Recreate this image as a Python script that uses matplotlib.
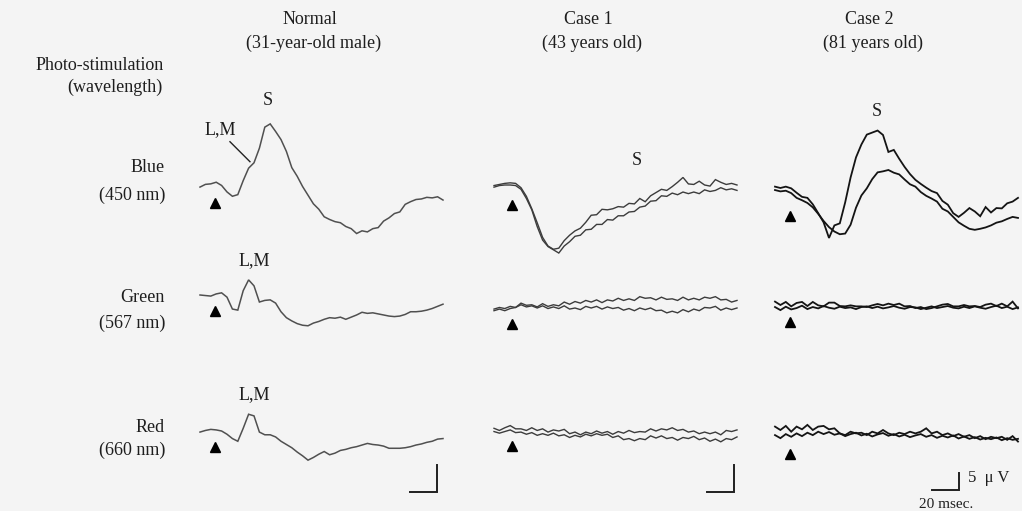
import numpy as np
import matplotlib
matplotlib.use("Agg")
import matplotlib.pyplot as plt

# ---------------- data (amplitude in microvolts, one sample every DT ms) ----------------
DT = 4.0  # ms between samples

columns = ["Normal", "Case 1", "Case 2"]
subtitles = ["(31-year-old male)", "(43 years old)", "(81 years old)"]
stim_names = ["Blue", "Green", "Red"]
wavelengths = ["(450 nm)", "(567 nm)", "(660 nm)"]

# Normal (31-year-old male)
normal_blue = [-0.2, 0.3, 0.4, 0.7, 0.1, -1.1, -1.9, -1.6, 1.0, 3.3, 4.3, 7.0, 10.9, 11.5, 10.1,
               8.6, 6.4, 3.4, 1.8, -0.1, -1.7, -3.3, -4.3, -5.7, -6.2, -6.6, -6.8, -7.5, -7.9,
               -8.8, -8.3, -8.5, -7.9, -7.7, -6.5, -5.9, -5.1, -4.8, -3.4, -2.9, -2.5, -2.4,
               -2.1, -2.2, -2.0, -2.6]
normal_green = [0.0, -0.1, -0.2, 0.2, 0.4, -0.4, -2.6, -2.8, 0.8, 2.8, 1.7, -1.3, -1.0, -0.9,
                -1.5, -3.1, -4.2, -4.8, -5.3, -5.6, -5.7, -5.2, -4.9, -4.5, -4.2, -4.3, -4.1,
                -4.5, -4.1, -3.7, -3.2, -3.4, -3.3, -3.5, -3.7, -3.9, -4.0, -3.9, -3.6, -3.1,
                -3.1, -3.0, -2.8, -2.5, -2.1, -1.7]
normal_red = [-0.2, 0.1, 0.3, 0.2, 0.0, -0.6, -1.4, -1.9, 0.5, 3.1, 2.8, -0.2, -0.7, -0.7,
              -1.1, -1.9, -2.5, -3.1, -3.9, -4.6, -5.4, -4.9, -4.3, -3.8, -4.4, -4.1, -3.6,
              -3.4, -3.1, -2.9, -2.6, -2.3, -2.5, -2.6, -2.8, -3.2, -3.2, -3.2, -3.1, -2.9,
              -2.6, -2.4, -2.1, -1.9, -1.5, -1.4]

# Case 1 (43 years old), two recordings each
case1_blue_a = [-0.1, 0.1, 0.3, 0.4, 0.3, -0.5, -2.1, -4.4, -7.0, -9.7, -11.3, -11.9, -11.7,
                -10.3, -9.3, -8.5, -8.0, -6.9, -5.6, -5.5, -4.5, -4.6, -4.4, -4.0, -4.1, -3.4,
                -3.5, -2.5, -3.1, -2.0, -1.4, -0.8, -1.0, -0.3, 0.5, 1.4, 0.2, 0.1, 0.7, 0.0,
                -0.2, 1.0, 0.5, 0.1, 0.3, 0.0]
case1_blue_b = [-0.4, -0.1, 0.0, 0.0, -0.1, -0.8, -2.5, -4.6, -7.7, -10.2, -11.4, -12.0, -12.6,
                -11.3, -10.5, -9.5, -9.3, -8.3, -8.2, -7.3, -7.3, -6.4, -6.5, -5.7, -5.7, -5.0,
                -4.9, -4.1, -3.9, -3.0, -2.9, -2.0, -2.1, -1.5, -1.8, -1.3, -1.6, -1.3, -1.6,
                -0.9, -1.2, -1.0, -0.5, -0.9, -0.7, -1.0]
case1_green_a = [-0.2, 0.1, -0.1, 0.3, 0.1, 0.9, 0.5, 0.6, 0.2, 0.8, 0.3, 0.6, 0.4, 1.1, 0.7,
                 1.2, 0.9, 1.4, 1.1, 1.5, 1.0, 1.5, 1.3, 1.8, 1.4, 1.7, 1.4, 2.1, 1.8, 1.9, 1.5,
                 2.0, 1.6, 1.7, 1.4, 2.0, 1.5, 1.8, 1.5, 2.0, 1.8, 2.1, 1.5, 1.6, 1.1, 1.4]
case1_green_b = [-0.5, -0.2, -0.5, -0.1, 0.1, 0.6, 0.2, 0.4, 0.0, 0.4, -0.1, 0.2, -0.1, 0.4,
                 -0.2, 0.0, -0.3, 0.3, 0.0, 0.3, -0.2, 0.2, -0.1, 0.1, -0.4, -0.1, -0.5, 0.0,
                 -0.3, 0.0, -0.5, -0.4, -0.9, -0.6, -0.9, -0.3, -0.7, -0.2, -0.5, 0.1, 0.0, 0.3,
                 -0.4, 0.0, -0.3, 0.0]
case1_red_a = [0.5, 0.1, 0.6, 1.0, 0.4, 0.4, 0.1, 0.6, 0.1, 0.4, -0.2, 0.2, 0.0, 0.3, -0.5,
               -0.2, -0.7, -0.2, -0.5, 0.0, -0.4, -0.1, -0.6, -0.1, -0.4, 0.1, -0.3, -0.1, -0.2,
               0.4, 0.0, 0.4, 0.2, 0.6, 0.1, 0.3, -0.2, 0.0, -0.5, -0.2, -0.5, -0.2, -0.7, 0.1,
               -0.1, 0.2]
case1_red_b = [-0.1, -0.4, -0.1, 0.2, -0.3, -0.2, -0.6, -0.3, -0.8, -0.5, -0.8, -0.4, -0.9,
               -0.7, -1.2, -0.8, -1.1, -0.6, -0.9, -0.5, -0.8, -0.6, -1.2, -0.9, -1.6, -1.4,
               -1.8, -1.4, -1.6, -0.9, -1.3, -0.9, -1.4, -1.2, -1.7, -1.2, -1.4, -1.0, -1.6,
               -1.3, -1.9, -1.5, -2.0, -1.4, -1.6, -1.1]

# Case 2 (81 years old), two recordings each
case2_blue_a = [0.4, 0.0, 0.4, -0.1, -1.4, -2.6, -2.9, -4.8, -7.4, -10.1, -14.7, -11.0, -10.4,
                -4.2, 3.1, 9.0, 12.8, 15.7, 16.3, 16.9, 15.6, 10.6, 11.2, 8.6, 6.2, 4.1, 2.4,
                1.2, 0.1, -0.9, -1.5, -3.8, -4.9, -7.4, -8.5, -7.3, -5.9, -6.9, -8.3, -5.6,
                -7.2, -5.9, -6.0, -4.5, -4.0, -2.9]
case2_blue_b = [-0.6, -1.0, -0.8, -1.5, -2.9, -3.6, -4.4, -5.7, -7.6, -9.7, -11.5, -12.8,
                -13.6, -13.4, -10.8, -5.8, -2.2, -0.1, 2.6, 4.6, 4.9, 5.3, 4.5, 4.0, 2.5, 1.1,
                0.4, -1.2, -2.3, -3.1, -4.0, -6.1, -6.9, -8.5, -10.1, -11.1, -12.0, -12.3,
                -12.0, -11.6, -11.0, -10.2, -9.8, -9.1, -8.5, -8.8]
case2_green_a = [1.0, 0.0, 0.9, -0.4, 0.6, 0.9, -0.3, 0.9, -0.1, -0.4, 0.7, 0.7, -0.3, -0.4,
                 -0.1, -0.4, -0.4, -0.6, -0.1, 0.3, -0.1, 0.4, 0.0, 0.4, -0.4, -0.3, -0.9, -0.6,
                 -1.2, -0.9, -0.4, 0.1, 0.3, -0.4, -0.4, 0.0, -0.4, -0.3, -0.6, 0.1, 0.4, -0.3,
                 0.4, -0.4, 1.0, -1.0]
case2_green_b = [-0.6, -1.5, -0.5, -1.3, -0.9, -0.2, -1.2, -0.6, -1.0, -0.3, -0.8, -1.1, -0.5,
                 -0.9, -0.7, -1.2, -0.6, -0.4, -0.9, -0.5, -1.0, -0.7, -0.3, -0.8, -1.1, -0.6,
                 -0.7, -1.2, -0.8, -0.4, -0.9, -0.6, -0.3, -0.8, -1.0, -0.5, -0.9, -0.4, -0.8,
                 -1.1, -0.6, -0.2, -0.9, -0.5, -1.2, -0.7]
case2_red_a = [1.0, 0.0, 1.2, -0.5, 1.0, 0.2, 1.5, 0.0, 1.0, 1.2, 0.2, 0.5, -1.0, -1.5, -0.5,
               -1.0, -0.8, -1.5, -0.5, -1.0, 0.0, -1.0, -1.5, -0.8, -1.2, -0.5, -1.0, -0.5, 0.5,
               -1.0, -0.5, -1.5, -1.0, -1.8, -1.2, -2.0, -1.5, -2.4, -1.8, -2.7, -2.0, -2.4,
               -2.0, -2.9, -1.8, -3.4]
case2_red_b = [-1.5, -2.4, -1.2, -2.0, -1.0, -1.8, -0.8, -1.5, -0.5, -1.2, -0.6, -1.4, -1.0,
               -1.8, -1.2, -0.8, -1.6, -1.1, -1.9, -1.3, -0.9, -1.7, -1.2, -1.9, -1.4, -2.1,
               -1.6, -1.2, -2.0, -1.5, -2.3, -1.7, -2.2, -1.6, -2.5, -1.9, -2.6, -2.1, -2.8,
               -2.3, -2.7, -2.2, -3.0, -2.4, -2.9, -2.6]

traces = [
    [[normal_blue], [normal_green], [normal_red]],
    [[case1_blue_a, case1_blue_b], [case1_green_a, case1_green_b], [case1_red_a, case1_red_b]],
    [[case2_blue_a, case2_blue_b], [case2_green_a, case2_green_b], [case2_red_a, case2_red_b]],
]
stim_onset_ms = [11.1, 13.3, 11.1]
scale_ms, scale_uv = 20, 5

# ---------------- layout / style ----------------
FIG_W, FIG_H = 1022, 511
FONT = ["Liberation Serif", "DejaVu Serif"]
TXT = "#1e1e1e"
col_x0 = [200, 494, 775]                 # px where t = 0
baselines = [[186, 295, 431], [185, 308, 431], [188, 305, 430]]  # px
ms_per_px = 20 / 27
uv_per_px = [5 / 27, 5 / 27, 5 / 17]
arrow_px = [[17, 16, 16], [20, 16, 15], [28, 17, 24]]
trace_colors = ["#505050", "#3c3c3c", "#141414"]
trace_lw = [1.1, 1.0, 1.3]
PW, PH = 250, 140

fig = plt.figure(figsize=(FIG_W / 100, FIG_H / 100), dpi=100)
fig.patch.set_facecolor("#f4f4f4")

axes = {}
for c in range(3):
    for r in range(3):
        base = baselines[c][r]
        ax = fig.add_axes([col_x0[c] / FIG_W, (FIG_H - base - PH / 2) / FIG_H,
                           PW / FIG_W, PH / FIG_H])
        ax.set_xlim(0, PW * ms_per_px)
        ax.set_ylim(-PH / 2 * uv_per_px[c], PH / 2 * uv_per_px[c])
        ax.axis("off")
        for tr in traces[c][r]:
            t = np.arange(len(tr)) * DT
            ax.plot(t, tr, color=trace_colors[c], lw=trace_lw[c], clip_on=False,
                    solid_joinstyle="miter")
        ax.plot([stim_onset_ms[c]], [-arrow_px[c][r] * uv_per_px[c]], marker="^", ms=6.5,
                color="black", clip_on=False)
        axes[(c, r)] = ax

# peak labels
def label(c, r, t, uv, s, fs=13):
    axes[(c, r)].text(t, uv, s, ha="center", va="center", fontsize=fs, family=FONT,
                      color=TXT, clip_on=False)

label(0, 0, 14.8, 10.4, "L,M")
axes[(0, 0)].plot([22.2, 37.0], [8.2, 4.5], color="#222222", lw=1.0, clip_on=False)
label(0, 0, 50.4, 15.9, "S")
label(0, 1, 40.0, 6.3, "L,M")
label(0, 2, 40.0, 6.7, "L,M")
label(1, 0, 105.9, 4.6, "S")
label(2, 0, 75.5, 22.6, "S")

# scale bars
bar_start_ms = [155.6, 157.8, 116.3]
bar_y_px = [61, 61, 60]
for c in range(3):
    ax = axes[(c, 2)]
    y0 = -bar_y_px[c] * uv_per_px[c]
    t0 = bar_start_ms[c]
    ax.plot([t0, t0 + scale_ms, t0 + scale_ms], [y0, y0, y0 + scale_uv], color="#202020",
            lw=1.4, clip_on=False, solid_joinstyle="miter")
ax = axes[(2, 2)]
ax.text(143.0, -14.1, "5  \u03bc V", ha="left", va="center", fontsize=12, family=FONT,
        color=TXT, clip_on=False)
ax.text(126.5, -21.9, "20 msec.", ha="center", va="center", fontsize=11, family=FONT,
        color=TXT, clip_on=False)

# headers
head_x = [310, 588, 869]
for c in range(3):
    fig.text(head_x[c] / FIG_W, 1 - 20 / FIG_H, columns[c], ha="center", va="center",
             fontsize=13, family=FONT, color=TXT)
    fig.text((head_x[c] + 4) / FIG_W, 1 - 43 / FIG_H, subtitles[c], ha="center",
             va="center", fontsize=13, family=FONT, color=TXT)

fig.text(164 / FIG_W, 1 - 65 / FIG_H, "Photo-stimulation", ha="right", va="center",
         fontsize=13, family=FONT, color=TXT)
fig.text(163 / FIG_W, 1 - 87 / FIG_H, "(wavelength)", ha="right", va="center",
         fontsize=13, family=FONT, color=TXT)

row_y = [(168, 195), (298, 323), (427, 450)]
for r in range(3):
    fig.text(165 / FIG_W, 1 - row_y[r][0] / FIG_H, stim_names[r], ha="right", va="center",
             fontsize=13, family=FONT, color=TXT)
    fig.text(165 / FIG_W, 1 - row_y[r][1] / FIG_H, wavelengths[r], ha="right", va="center",
             fontsize=13, family=FONT, color=TXT)

fig.savefig("out.png", dpi=100, facecolor=fig.get_facecolor())
